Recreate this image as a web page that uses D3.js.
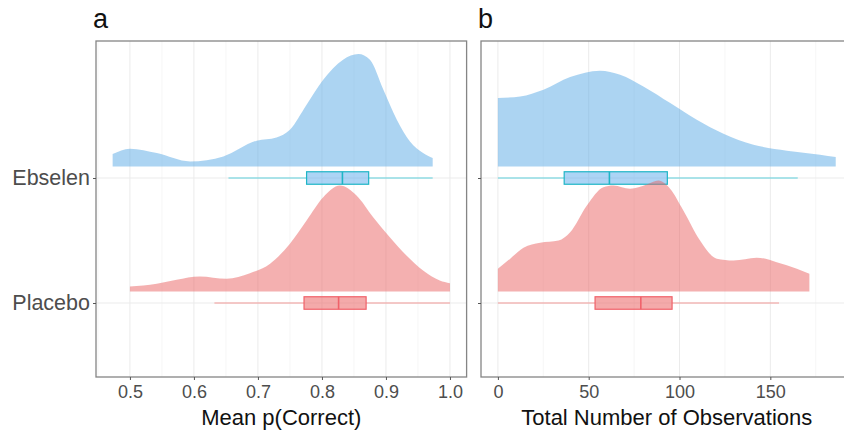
<!DOCTYPE html>
<html><head><meta charset="utf-8">
<script src="https://cdn.jsdelivr.net/npm/d3@7"></script>
<style>body{margin:0;background:#fff}svg{display:block}text{font-family:"Liberation Sans",Arial,sans-serif}</style>
</head><body><svg id="c" width="844" height="434"></svg>
<script>
// ---- data ----
const groups = ["Placebo", "Ebselen"];
const panelLetters = ["a", "b"];
const xTitles = ["Mean p(Correct)", "Total Number of Observations"];
const ticksA = [0.5, 0.6, 0.7, 0.8, 0.9, 1.0];
const ticksB = [0, 50, 100, 150];
// density slabs: x values and relative heights (category units)
const ebselenA_x = [0.473,0.5,0.542,0.594,0.646,0.698,0.729,0.75,0.776,0.802,0.833,0.857,0.875,0.896,0.917,0.9375,0.958,0.973];
const ebselenA_d = [0.099,0.142,0.107,0.040,0.080,0.206,0.232,0.294,0.494,0.694,0.854,0.899,0.854,0.614,0.374,0.200,0.107,0.067];
const placeboA_x = [0.5,0.542,0.573,0.609,0.651,0.6875,0.719,0.75,0.776,0.802,0.828,0.854,0.880,0.906,0.932,0.958,0.984,1.0];
const placeboA_d = [0.040,0.062,0.094,0.120,0.102,0.146,0.222,0.382,0.568,0.754,0.848,0.768,0.594,0.434,0.288,0.168,0.088,0.066];
const ebselenB_x = [0,12.3,25.1,39.8,56.2,67.3,80.1,94.9,109.5,124.2,140.7,159.1,177.4,186.0];
const ebselenB_d = [0.547,0.560,0.614,0.715,0.766,0.734,0.640,0.507,0.374,0.262,0.174,0.126,0.094,0.075];
const placeboB_x = [0,6.8,14.1,23.3,33.4,39.8,49.0,58.1,63.6,72.8,82.0,88.4,94.8,102.1,111.3,120.5,129.7,142.5,153.5,164.6,171.5];
const placeboB_d = [0.182,0.262,0.350,0.390,0.408,0.474,0.688,0.834,0.848,0.822,0.856,0.888,0.822,0.648,0.408,0.262,0.248,0.270,0.234,0.182,0.142];
// boxplots: [whiskerLow, q1, median, q3, whiskerHigh]
const ebselenA_box = [0.654, 0.776, 0.832, 0.873, 0.973];
const placeboA_box = [0.632, 0.772, 0.826, 0.869, 1.0];
const ebselenB_box = [0, 36.5, 61.4, 93.3, 165.1];
const placeboB_box = [0, 53.5, 78.7, 95.9, 154.8];

// ---- layout ----
const svg = d3.select("#c");
const pTop = 41, pBottom = 377;
const y = d3.scaleLinear().domain([0.408, 3.096]).range([pBottom, pTop]);
const gpos = {Placebo: 1, Ebselen: 2};
const slabOffset = 0.093;
const col = {
  Ebselen: {slab: "rgba(90,170,230,0.5)", boxFill: "rgba(90,170,235,0.5)", stroke: "#1fb5c6", whisk: "#5fd0dc"},
  Placebo: {slab: "rgba(233,97,97,0.5)", boxFill: "rgba(235,100,100,0.55)", stroke: "#f0626a", whisk: "#f29a98"}
};

const panels = [
  {x0: 96, x1: 466.6, domain: [0.447, 1.026], ticks: ticksA, minor: [0.45,0.55,0.65,0.75,0.85,0.95], fmt: d3.format(".1f"),
   data: {Ebselen: [ebselenA_x, ebselenA_d, ebselenA_box], Placebo: [placeboA_x, placeboA_d, placeboA_box]}},
  {x0: 481, x1: 852.6, domain: [-9.3, 195.3], ticks: ticksB, minor: [25, 75, 125, 175], fmt: d3.format("d"),
   data: {Ebselen: [ebselenB_x, ebselenB_d, ebselenB_box], Placebo: [placeboB_x, placeboB_d, placeboB_box]}}
];

panels.forEach((p, i) => {
  const x = d3.scaleLinear().domain(p.domain).range([p.x0, p.x1]);
  const g = svg.append("g");
  g.selectAll(".mn").data(p.minor).join("line")
    .attr("x1", d => x(d)).attr("x2", d => x(d)).attr("y1", pTop).attr("y2", pBottom)
    .attr("stroke", "#f4f4f4").attr("stroke-width", 0.8);
  g.selectAll(".mj").data(p.ticks).join("line")
    .attr("x1", d => x(d)).attr("x2", d => x(d)).attr("y1", pTop).attr("y2", pBottom)
    .attr("stroke", "#ebebeb").attr("stroke-width", 1);
  g.selectAll(".hy").data(groups).join("line")
    .attr("x1", p.x0).attr("x2", p.x1).attr("y1", d => y(gpos[d])).attr("y2", d => y(gpos[d]))
    .attr("stroke", "#ebebeb").attr("stroke-width", 1);

  ["Ebselen", "Placebo"].forEach(gr => {
    const [xs, ds, bx] = p.data[gr];
    const base = gpos[gr] + slabOffset;
    const pts = xs.map((v, k) => [v, ds[k]]);
    const area = d3.area().x(d => x(d[0])).y0(y(base)).y1(d => y(base + d[1])).curve(d3.curveMonotoneX);
    g.append("path").datum(pts).attr("d", area).attr("fill", col[gr].slab);
    const cy = y(gpos[gr]);
    const bh = 12.5;
    g.append("line").attr("x1", x(bx[0])).attr("x2", x(bx[1])).attr("y1", cy).attr("y2", cy)
      .attr("stroke", col[gr].whisk).attr("stroke-width", 1);
    g.append("line").attr("x1", x(bx[3])).attr("x2", x(bx[4])).attr("y1", cy).attr("y2", cy)
      .attr("stroke", col[gr].whisk).attr("stroke-width", 1);
    g.append("rect").attr("x", x(bx[1])).attr("y", cy - bh / 2).attr("width", x(bx[3]) - x(bx[1])).attr("height", bh)
      .attr("fill", col[gr].boxFill).attr("stroke", col[gr].stroke).attr("stroke-width", 1.2);
    g.append("line").attr("x1", x(bx[2])).attr("x2", x(bx[2])).attr("y1", cy - bh / 2).attr("y2", cy + bh / 2)
      .attr("stroke", col[gr].stroke).attr("stroke-width", 1.6);
  });

  g.append("rect").attr("x", p.x0).attr("y", pTop).attr("width", p.x1 - p.x0).attr("height", pBottom - pTop)
    .attr("fill", "none").attr("stroke", "#858585").attr("stroke-width", 1.3);

  const ax = svg.append("g").attr("transform", `translate(0,${pBottom})`)
    .call(d3.axisBottom(x).tickValues(p.ticks).tickFormat(p.fmt).tickSize(3).tickPadding(5));
  ax.select(".domain").remove();
  ax.selectAll("line").attr("stroke", "#555");
  ax.selectAll("text").attr("font-size", 18).attr("fill", "#4d4d4d").attr("font-family", '"Liberation Sans",Arial,sans-serif');

  const yb = d3.scalePoint().domain(["Ebselen", "Placebo"]).range([y(2), y(1)]);
  const ay = svg.append("g").attr("transform", `translate(${p.x0},0)`)
    .call(d3.axisLeft(yb).tickSize(3).tickPadding(3).tickFormat(i === 0 ? (d => d) : () => ""));
  ay.select(".domain").remove();
  ay.selectAll("line").attr("stroke", "#555");
  ay.selectAll("text").attr("font-size", 21.5).attr("fill", "#4d4d4d").attr("font-family", '"Liberation Sans",Arial,sans-serif');

  svg.append("text").attr("x", (p.x0 + p.x1) / 2).attr("y", 425).attr("text-anchor", "middle")
    .attr("font-size", 22).attr("fill", "#111").text(xTitles[i]);
  svg.append("text").attr("x", p.x0 - 3).attr("y", 28).attr("font-size", 27).attr("fill", "#111").text(panelLetters[i]);
});
</script></body></html>
